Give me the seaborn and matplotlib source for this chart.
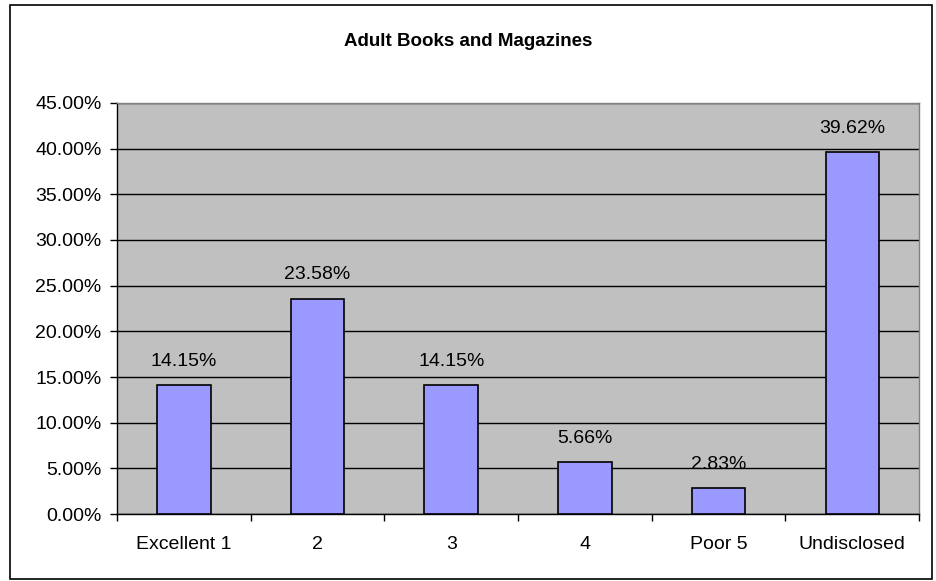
import matplotlib
matplotlib.use("Agg")
import matplotlib.pyplot as plt
import seaborn as sns
import pandas as pd
from matplotlib.patches import Rectangle
from matplotlib.ticker import FuncFormatter, FixedLocator

# chart data
categories = ["Excellent 1", "2", "3", "4", "Poor 5", "Undisclosed"]
percentages = [14.15, 23.58, 14.15, 5.66, 2.83, 39.62]

df = pd.DataFrame({"rating": categories, "pct": percentages})

sns.set_style("white")
plt.rcParams["font.family"] = ["Liberation Sans", "DejaVu Sans"]
plt.rcParams["text.color"] = "black"
plt.rcParams["xtick.color"] = "black"
plt.rcParams["ytick.color"] = "black"

fig = plt.figure(figsize=(9.36, 5.81), dpi=100)
ax = fig.add_axes([0.125, 0.115, 0.857, 0.708])

sns.barplot(data=df, x="rating", y="pct", ax=ax, color="#9999FF",
            saturation=1, width=0.4, edgecolor="black", linewidth=1.2, zorder=3)

ax.set_facecolor("#C0C0C0")
ax.set_ylim(0, 45)
ax.set_xlim(-0.5, len(categories) - 0.5)
ax.yaxis.set_major_locator(FixedLocator(range(0, 50, 5)))
ax.yaxis.set_major_formatter(FuncFormatter(lambda v, _: f"{v:.2f}%"))
ax.grid(axis="y", color="black", linewidth=1, zorder=0)
ax.set_axisbelow(True)

# ticks between categories, like the spreadsheet
ax.set_xticks([i + 0.5 for i in range(-1, len(categories))], minor=False)
ax.set_xticklabels([])
ax.set_xticks(range(len(categories)), minor=True)
ax.set_xticklabels(categories, minor=True)
ax.tick_params(axis="x", which="major", length=5, width=1, color="black", direction="out")
ax.tick_params(axis="x", which="minor", length=0, labelsize=14, pad=15.5)
ax.tick_params(axis="y", length=5, width=1, color="black", direction="out", labelsize=14, pad=6)
ax.tick_params(axis="both", bottom=True, left=True)

ax.set_xlabel("")
ax.set_ylabel("")

for side in ["left", "bottom"]:
    ax.spines[side].set_color("black")
    ax.spines[side].set_linewidth(1)
for side in ["top", "right"]:
    ax.spines[side].set_visible(True)
    ax.spines[side].set_color("#808080")
    ax.spines[side].set_linewidth(1)

for i, v in enumerate(percentages):
    ax.text(i, v + 2.1, f"{v:.2f}%", ha="center", va="baseline", fontsize=14, zorder=4)

fig.text(0.5, 0.928, "Adult Books and Magazines", ha="center", va="center",
         fontsize=13.5, fontweight="bold")

fig.patches.append(Rectangle((0.011, 0.004), 0.985, 0.988, transform=fig.transFigure,
                             fill=False, edgecolor="black", linewidth=1.2))

fig.savefig("out.png", dpi=100)
